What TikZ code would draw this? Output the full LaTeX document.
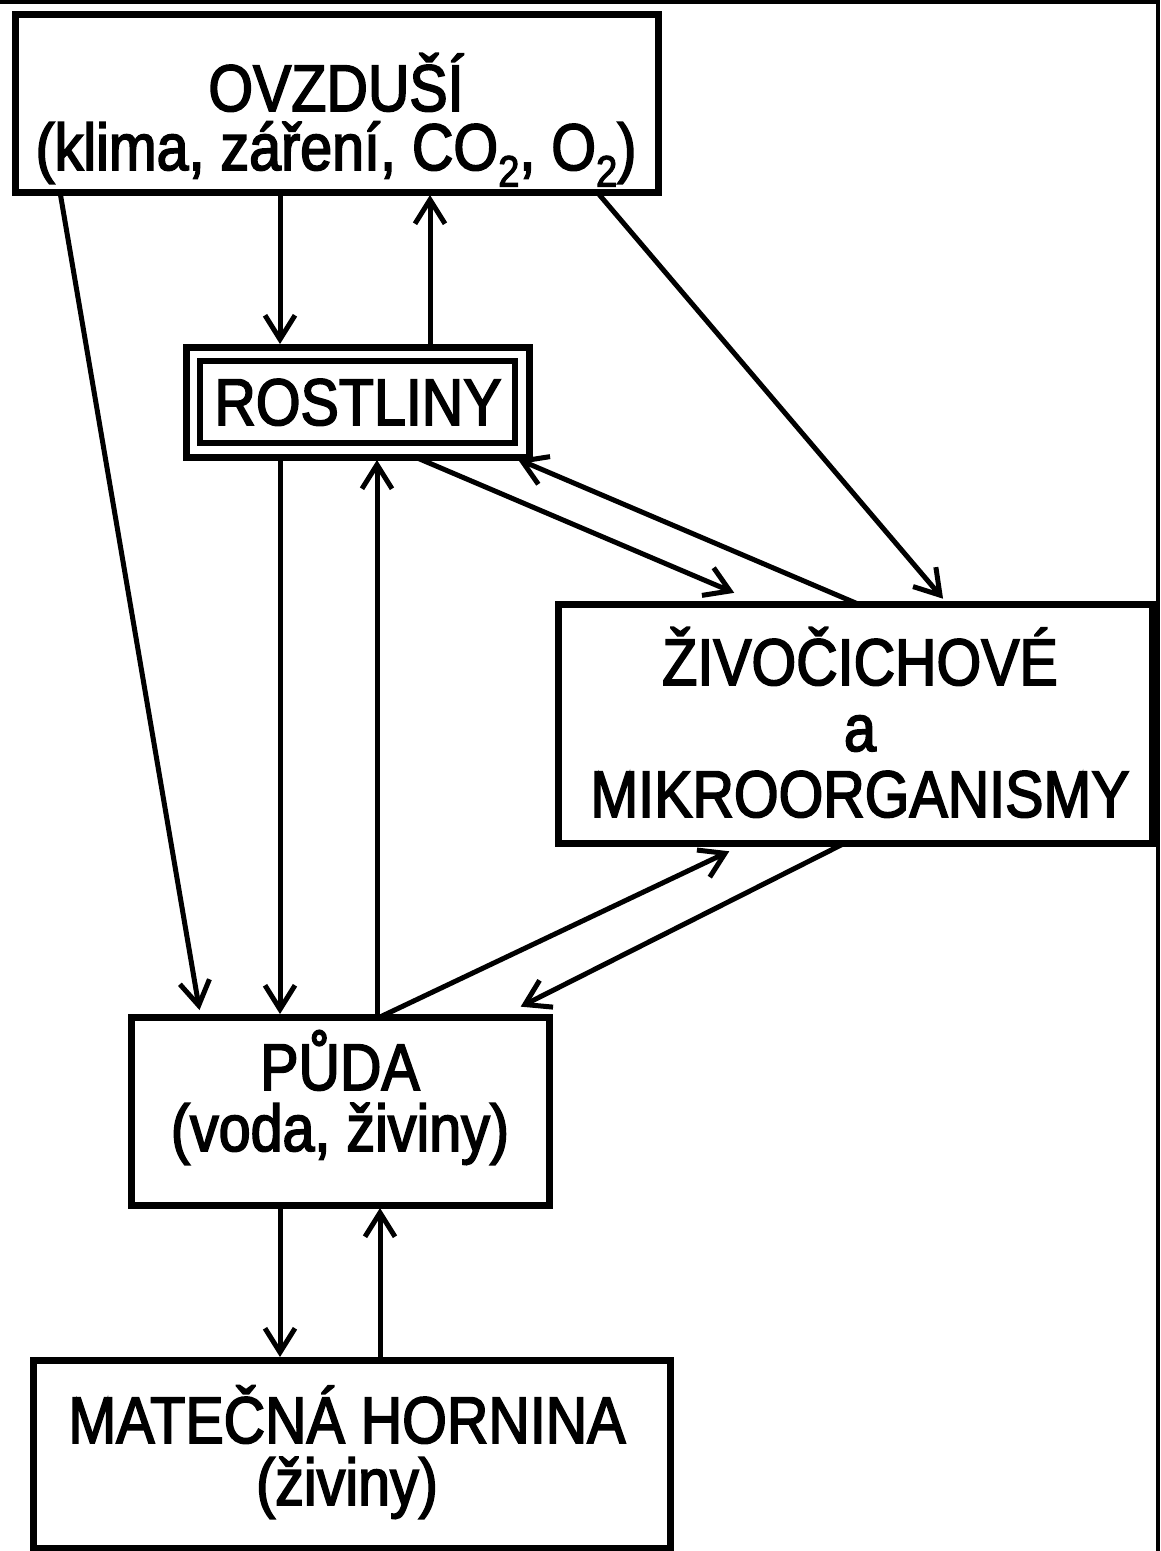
\documentclass[tikz,border=0pt]{standalone}
\usepackage{fontspec}
\setmainfont[FakeStretch=0.87,FakeBold=2.5]{Liberation Sans}
\usetikzlibrary{arrows.meta,calc}
\newcommand{\subtwo}{\raisebox{-0.25em}{\fontsize{44}{44}\selectfont 2}}
\begin{document}
\begin{tikzpicture}[x=1pt,y=-1pt,
  box/.style={draw,line width=7pt,minimum width=#1,inner sep=0pt,outer sep=0pt},
  lbl/.style={anchor=base,inner sep=0pt,align=center},
  flow/.style={line width=5pt,-{Straight Barb[length=24pt,width=30pt,line width=5pt]},shorten >=3pt}
]
\useasboundingbox (0,0) rectangle (1160,1551);
% frame (top and right edges)
\draw[line width=4pt] (0,2) -- (1158,2) -- (1158,1551);

% boxes
\node[box=643pt,minimum height=178pt] (ovz) at (336.5,103) {};
\node[box=343pt,minimum height=110pt] (rost) at (357.5,402) {};
\node[draw,line width=6pt,minimum width=315pt,minimum height=82pt,inner sep=0pt] (rostin) at (357.5,402) {};
\node[box=594pt,minimum height=239pt] (ziv) at (855,723.5) {};
\node[box=418pt,minimum height=188pt] (puda) at (340,1111) {};
\node[box=637pt,minimum height=188pt] (mat) at (351.5,1454) {};

% labels
\node[lbl,font=\fontsize{66}{59}\selectfont] (t1) at (336,170) {OVZDUŠÍ\\(klima, záření, CO\subtwo, O\subtwo)};
\node[lbl,font=\fontsize{66}{70}\selectfont] (t3) at (358,425) {ROSTLINY};
\node[lbl,font=\fontsize{66}{66}\selectfont] (t4) at (860,817) {ŽIVOČICHOVÉ\\a\\MIKROORGANISMY};
\node[lbl,font=\fontsize{66}{61}\selectfont] (t7) at (340,1151) {PŮDA\\(voda, živiny)};
\node[lbl,font=\fontsize{66}{62}\selectfont] (t9) at (347,1505) {MATEČNÁ HORNINA\\(živiny)};

% connectors
\draw[flow] ([xshift=45pt]ovz.south west) -- ([xshift=69pt,yshift=4pt]puda.north west);
\draw[flow] ([xshift=265pt]ovz.south west) -- ([xshift=94pt]rost.north west);
\draw[flow] ([xshift=244pt]rost.north west) -- ([xshift=415pt]ovz.south west);
\draw[flow] ([xshift=582pt]ovz.south west) -- ([xshift=387pt,yshift=3pt]ziv.north west);
\draw[flow] ([xshift=229pt]rost.south west) -- ([xshift=179pt,yshift=10pt]ziv.north west);
\draw[flow] ([xshift=300pt]ziv.north west) -- ([xshift=-14pt,yshift=-1pt]rost.south east);
\draw[flow] ([xshift=94pt]rost.south west) -- ([xshift=149pt]puda.north west);
\draw[flow] ([xshift=246pt]puda.north west) -- ([xshift=191pt]rost.south west);
\draw[flow] ([xshift=249pt]puda.north west) -- ([xshift=174pt,yshift=-7pt]ziv.south west);
\draw[flow] ([xshift=287pt]ziv.south west) -- ([xshift=-31pt,yshift=9pt]puda.north east);
\draw[flow] ([xshift=149pt]puda.south west) -- ([xshift=247pt]mat.north west);
\draw[flow] ([xshift=347pt]mat.north west) -- ([xshift=249pt]puda.south west);
\end{tikzpicture}
\end{document}
